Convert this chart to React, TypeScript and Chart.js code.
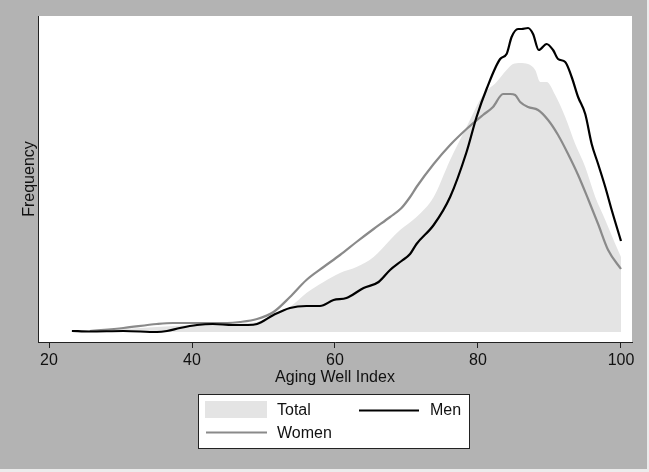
import React, { useEffect, useRef } from "react";
import { Chart, registerables } from "chart.js";

Chart.register(...registerables);

const FONT = "'Liberation Sans', Arial, Helvetica, sans-serif";

const xTickValues = [20, 40, 60, 80, 100];
const xAxisTitle = "Aging Well Index";
const yAxisTitle = "Frequency";
const seriesLabels = ["Total", "Men", "Women"];

const menX = [23.2, 25.7, 30.4, 35.1, 36.5, 38.3, 40.7, 42.9, 45.7, 47.8, 49.1, 51.4, 53.7, 56.0, 57.9, 59.8, 61.6, 64.0, 66.1, 67.7, 69.3, 70.5, 71.4, 73.8, 76.1, 78.4, 79.8, 81.2, 83.1, 84.0, 84.7, 85.6, 86.1, 87.0, 87.7, 88.5, 89.6, 90.5, 91.2, 92.2, 93.1, 94.0, 95.0, 95.9, 96.8, 97.8, 98.7, 100.0];
const menY = [0.1, 0.05, 0.1, 0.0, 0.1, 0.4, 0.7, 0.8, 0.7, 0.7, 0.8, 1.7, 2.4, 2.6, 2.6, 3.2, 3.4, 4.4, 5.0, 6.2, 7.1, 7.8, 8.8, 10.7, 13.5, 18.0, 21.5, 24.3, 27.3, 27.8, 29.5, 30.3, 30.3, 30.4, 29.8, 28.2, 28.8, 28.2, 27.3, 27.0, 25.5, 23.5, 21.8, 18.8, 16.8, 14.5, 12.2, 9.1];

const womenX = [25.7, 30.4, 35.1, 37.3, 41.1, 44.9, 46.7, 49.1, 51.4, 53.7, 56.0, 58.4, 60.7, 63.0, 65.4, 67.7, 69.3, 70.5, 71.4, 73.8, 76.1, 78.4, 80.7, 82.1, 83.5, 84.5, 85.2, 85.9, 87.0, 88.4, 89.8, 91.2, 92.6, 94.0, 95.4, 96.8, 98.2, 100.0];
const womenY = [0.1, 0.4, 0.8, 0.9, 0.9, 0.9, 1.0, 1.3, 2.0, 3.5, 5.2, 6.5, 7.7, 9.0, 10.3, 11.5, 12.4, 13.5, 14.5, 16.8, 18.7, 20.3, 21.7, 22.5, 23.8, 23.8, 23.7, 23.0, 22.5, 22.2, 21.2, 19.7, 17.8, 15.7, 13.3, 10.8, 8.2, 6.3];

const totalX = [25.7, 30.4, 35.1, 41.1, 46.7, 49.1, 51.4, 53.7, 56.0, 58.4, 60.7, 63.0, 65.4, 67.7, 69.1, 71.4, 73.8, 76.1, 78.4, 80.7, 82.6, 84.0, 84.9, 85.9, 87.0, 88.0, 88.7, 89.6, 90.8, 92.2, 93.6, 95.0, 96.4, 97.8, 99.2, 100.0];
const totalY = [0.1, 0.3, 0.5, 0.75, 0.85, 1.0, 1.7, 2.5, 3.9, 5.0, 5.9, 6.5, 7.5, 9.2, 10.2, 11.5, 13.5, 17.2, 20.5, 23.7, 25.0, 26.2, 26.8, 26.9, 26.8, 26.2, 25.0, 25.0, 23.7, 21.5, 18.8, 16.5, 13.5, 11.2, 8.8, 7.5];

const COLORS = {
  page: "#b3b3b3",
  edge: "#ececec",
  plot: "#ffffff",
  total: "#e4e4e4",
  men: "#000000",
  women: "#8a8a8a",
  text: "#111111",
  axis: "#222222",
};

const toPoints = (xs: number[], ys: number[]) => xs.map((x, i) => ({ x, y: ys[i] }));

const backgroundPlugin = {
  id: "pageBackground",
  beforeDraw(chart: any) {
    const { ctx, chartArea: a, width, height } = chart;
    ctx.save();
    ctx.fillStyle = COLORS.edge;
    ctx.fillRect(0, 0, width, height);
    ctx.fillStyle = COLORS.page;
    ctx.fillRect(0, 0, width - 2, height - 3);
    ctx.fillStyle = COLORS.plot;
    ctx.fillRect(a.left, a.top, a.right - a.left, a.bottom - a.top);
    ctx.restore();
  },
};

const boxLegendPlugin = {
  id: "boxLegend",
  afterDraw(chart: any) {
    const { ctx } = chart;
    const ds = chart.data.datasets;
    const total = ds.find((d: any) => d.label === seriesLabels[0]);
    const men = ds.find((d: any) => d.label === seriesLabels[1]);
    const women = ds.find((d: any) => d.label === seriesLabels[2]);
    ctx.save();
    ctx.fillStyle = "#ffffff";
    ctx.fillRect(198.5, 394.5, 271, 54);
    ctx.strokeStyle = "#222222";
    ctx.lineWidth = 1;
    ctx.strokeRect(198.5, 394.5, 271, 54);
    ctx.fillStyle = total.backgroundColor;
    ctx.fillRect(205, 401, 62, 17);
    ctx.strokeStyle = men.borderColor;
    ctx.lineWidth = 2;
    ctx.beginPath();
    ctx.moveTo(359, 410.5);
    ctx.lineTo(419, 410.5);
    ctx.stroke();
    ctx.strokeStyle = women.borderColor;
    ctx.beginPath();
    ctx.moveTo(206, 432.5);
    ctx.lineTo(267, 432.5);
    ctx.stroke();
    ctx.fillStyle = COLORS.text;
    ctx.font = `16px ${FONT}`;
    ctx.textBaseline = "middle";
    ctx.textAlign = "left";
    ctx.fillText(total.label, 277, 411);
    ctx.fillText(men.label, 430, 411);
    ctx.fillText(women.label, 277, 434);
    ctx.restore();
  },
};

export default function App() {
  const canvasRef = useRef<HTMLCanvasElement | null>(null);

  useEffect(() => {
    const canvas = canvasRef.current;
    if (!canvas) return;
    const chart = new Chart(canvas, {
      type: "line",
      data: {
        datasets: [
          {
            label: seriesLabels[1],
            data: toPoints(menX, menY),
            borderColor: COLORS.men,
            borderWidth: 2.2,
            pointRadius: 0,
            fill: false,
            cubicInterpolationMode: "monotone",
            order: 1,
          },
          {
            label: seriesLabels[2],
            data: toPoints(womenX, womenY),
            borderColor: COLORS.women,
            borderWidth: 2.2,
            pointRadius: 0,
            fill: false,
            cubicInterpolationMode: "monotone",
            order: 2,
          },
          {
            label: seriesLabels[0],
            data: toPoints(totalX, totalY),
            borderColor: COLORS.total,
            backgroundColor: COLORS.total,
            borderWidth: 0,
            pointRadius: 0,
            fill: "origin",
            cubicInterpolationMode: "monotone",
            order: 3,
          },
        ],
      },
      options: {
        responsive: false,
        animation: false,
        events: [],
        layout: { padding: { left: 0, top: 16, right: 17, bottom: 0 } },
        plugins: {
          legend: { display: false },
          tooltip: { enabled: false },
        },
        scales: {
          x: {
            type: "linear",
            position: "bottom",
            min: 18.46,
            max: 101.54,
            afterBuildTicks: (s: any) => {
              s.ticks = xTickValues.map((v) => ({ value: v }));
            },
            afterFit: (s: any) => {
              s.height = 130;
            },
            grid: {
              display: true,
              drawOnChartArea: false,
              drawTicks: true,
              tickLength: 6,
              color: COLORS.axis,
              lineWidth: 1,
            },
            border: { display: true, color: COLORS.axis, width: 1 },
            ticks: {
              color: COLORS.text,
              font: { family: FONT, size: 16 },
              padding: 3,
              maxRotation: 0,
              autoSkip: false,
            },
            title: {
              display: true,
              text: xAxisTitle,
              color: COLORS.text,
              font: { family: FONT, size: 16 },
              padding: { top: 0, bottom: 85 },
            },
          },
          y: {
            type: "linear",
            position: "left",
            min: -1.0,
            max: 31.6,
            afterFit: (s: any) => {
              s.width = 38;
            },
            grid: { display: false },
            border: { display: true, color: COLORS.axis, width: 1 },
            ticks: { display: false },
            title: {
              display: true,
              text: yAxisTitle,
              color: COLORS.text,
              font: { family: FONT, size: 16 },
              padding: { top: 19.5, bottom: 0 },
            },
          },
        },
      },
      plugins: [backgroundPlugin, boxLegendPlugin],
    });
    return () => chart.destroy();
  }, []);

  return (
    <div style={{ position: "fixed", left: 0, top: 0, width: 649, height: 472 }}>
      <canvas ref={canvasRef} width={649} height={472} style={{ display: "block", width: 649, height: 472 }} />
    </div>
  );
}
